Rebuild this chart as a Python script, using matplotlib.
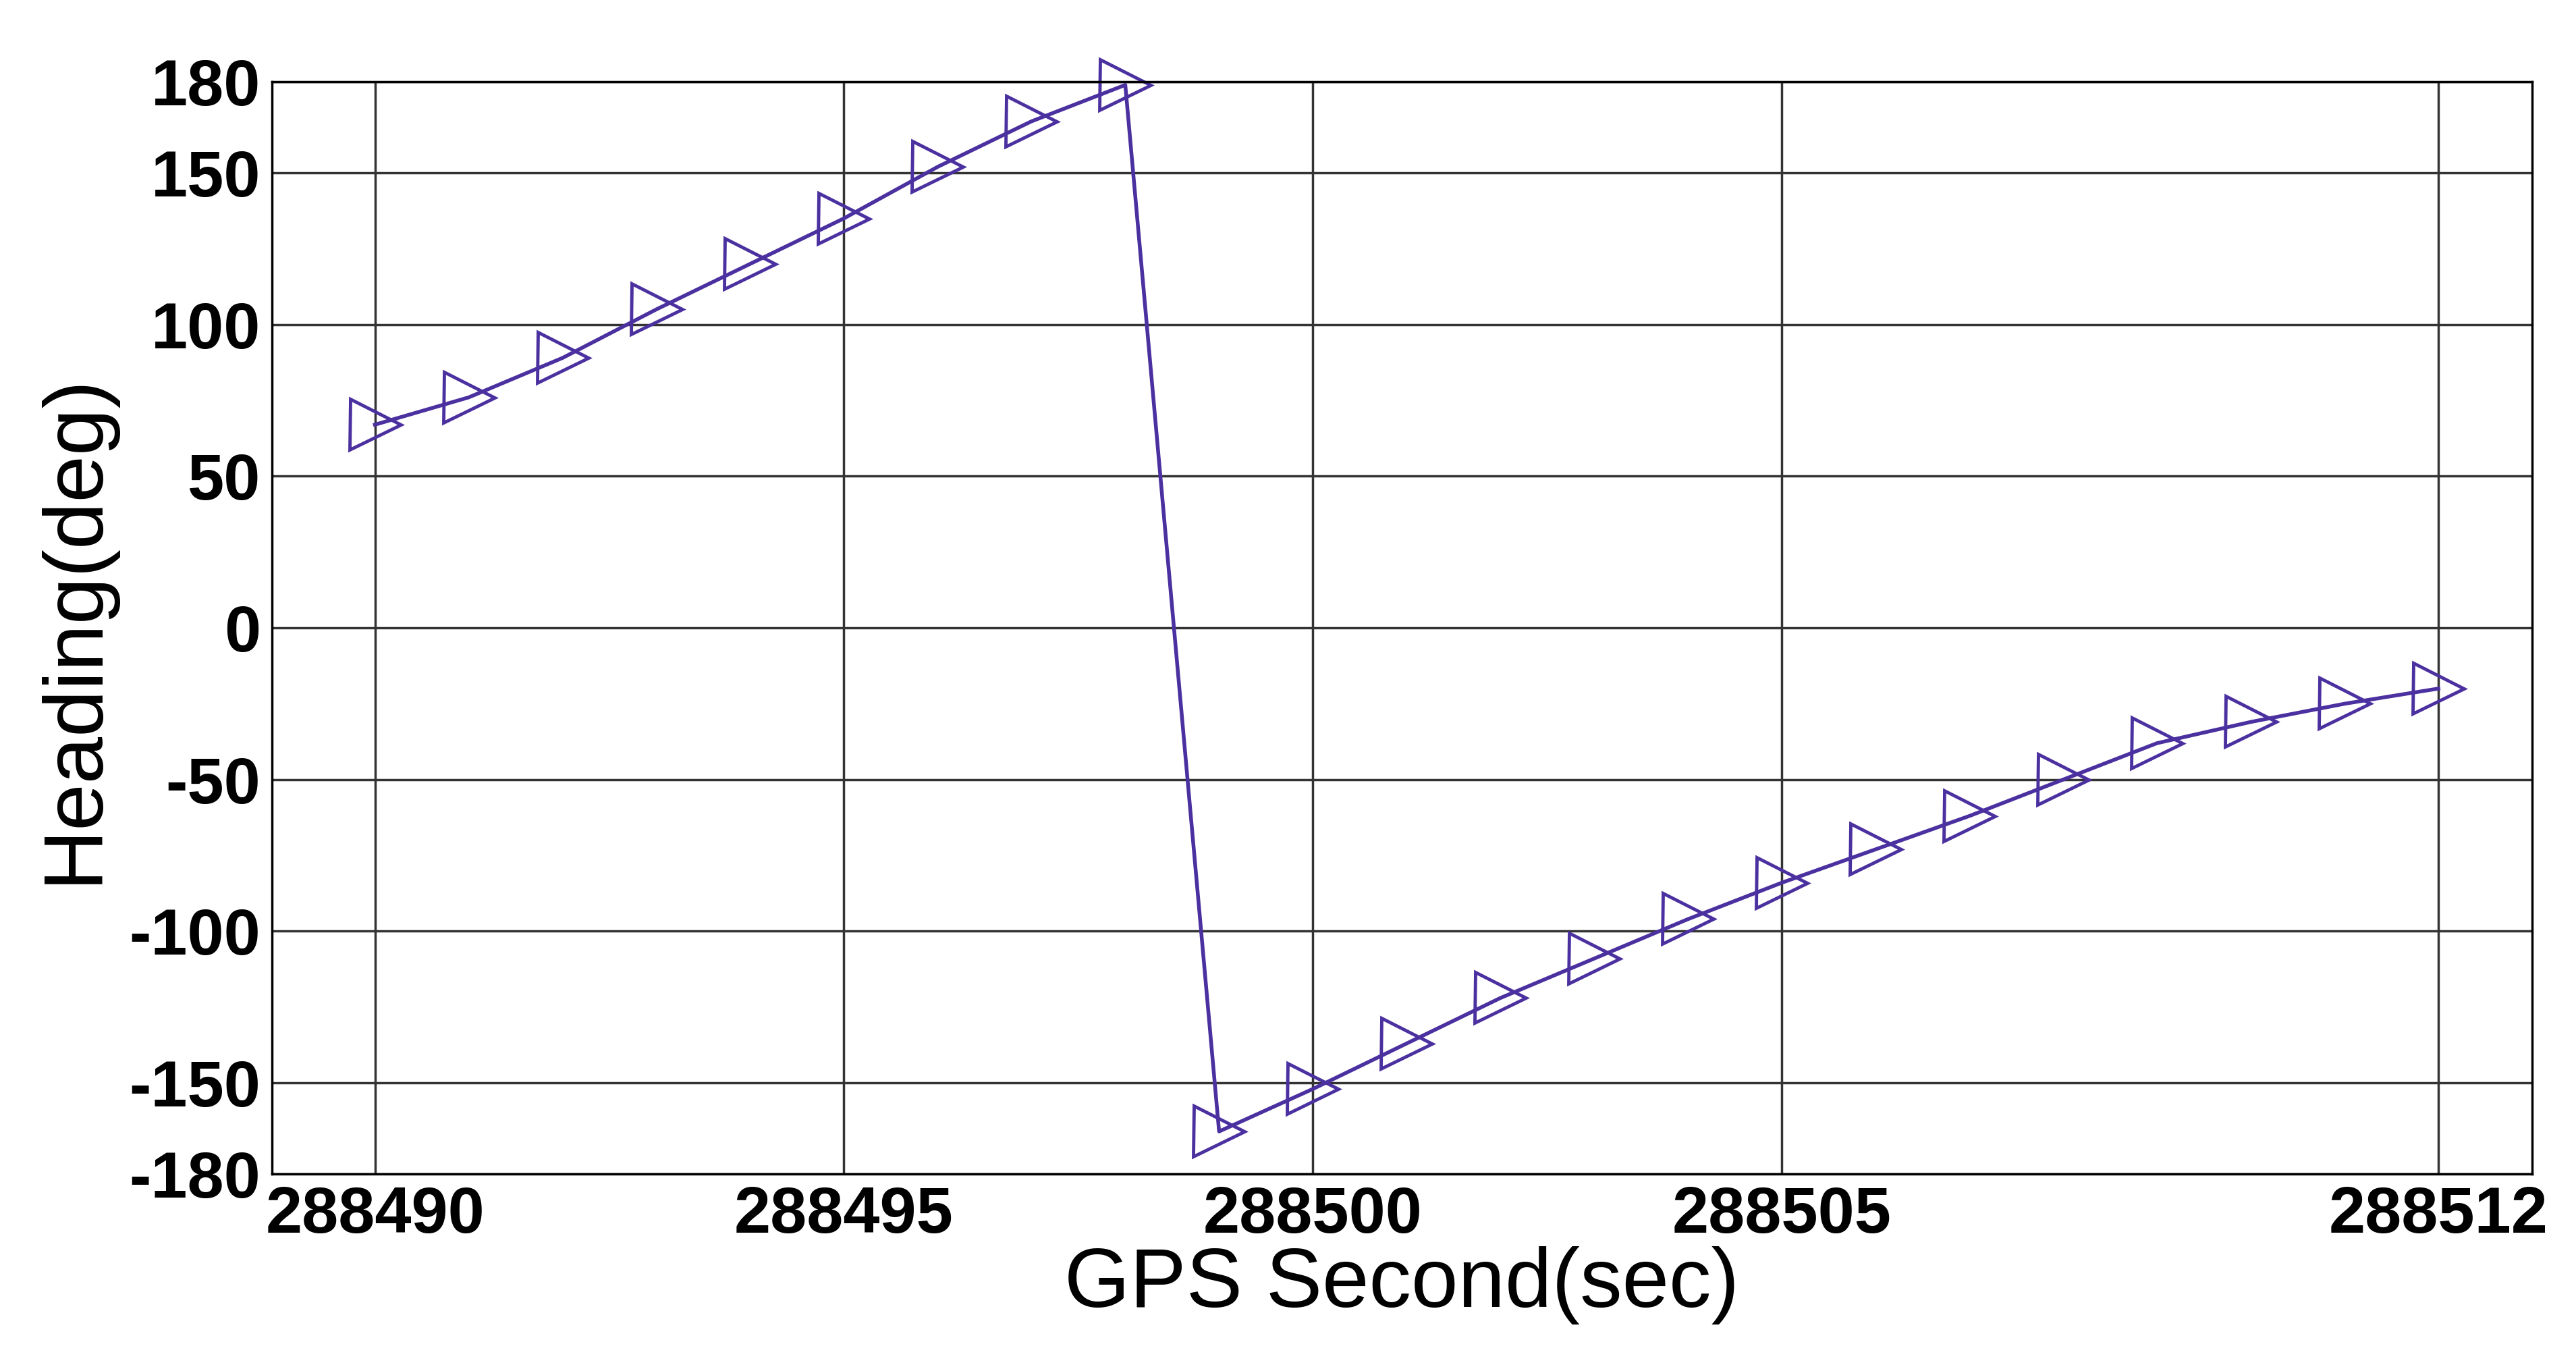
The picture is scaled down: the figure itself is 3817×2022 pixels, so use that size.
import matplotlib
matplotlib.use("Agg")
import matplotlib.pyplot as plt

# GPS seconds and heading readings (deg)
gps_sec = list(range(288490, 288513))
heading = [67, 76, 89, 105, 120, 135, 152, 167, 179,
           -166, -152, -137, -122, -109, -96, -84, -73, -62, -50, -38, -31, -25, -20]

x_ticks = [288490, 288495, 288500, 288505, 288512]
y_ticks = [180, 150, 100, 50, 0, -50, -100, -150, -180]

plt.rcParams["font.family"] = ["Liberation Sans", "DejaVu Sans"]
plt.rcParams["axes.unicode_minus"] = False

fig = plt.figure(figsize=(38.17, 20.22), dpi=100)
ax = fig.add_axes([0.1055, 0.140, 0.8775, 0.800])

ax.plot(gps_sec, heading, color="#4b30a0", linewidth=4, marker=">",
        markersize=54, markerfacecolor="none", markeredgewidth=3.5,
        markeredgecolor="#4b30a0", clip_on=False)

ax.set_xlim(288488.9, 288513.0)
ax.set_ylim(-180, 180)
ax.set_xticks(x_ticks)
ax.set_yticks(y_ticks)
ax.tick_params(labelsize=70, length=0, pad=12)
for lab in ax.get_xticklabels() + ax.get_yticklabels():
    lab.set_fontweight("bold")
ax.grid(True, color="#333333", linewidth=2.5)
for s in ax.spines.values():
    s.set_linewidth(2.5)

ax.set_xlabel("GPS Second(sec)", fontsize=90, labelpad=0)
ax.set_ylabel("Heading(deg)", fontsize=90, labelpad=16)

fig.savefig("out.png", dpi=100)
